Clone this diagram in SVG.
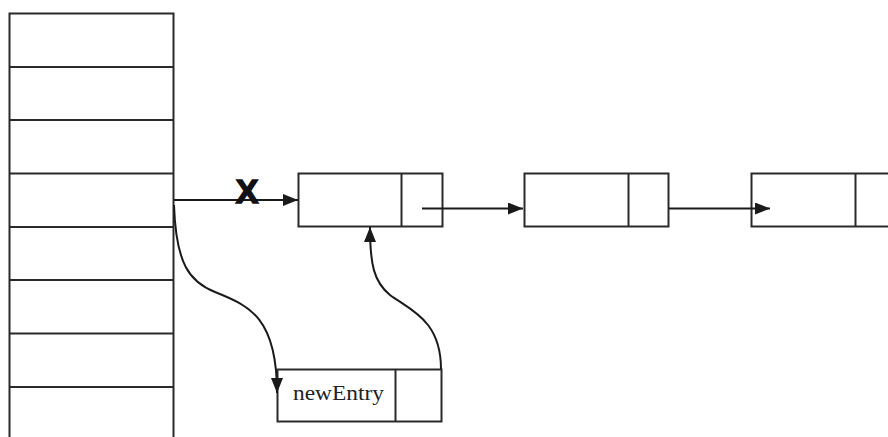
<svg xmlns="http://www.w3.org/2000/svg" width="888" height="437" viewBox="0 0 888 437">
<defs>
<marker id="ah" markerWidth="16" markerHeight="12" refX="15" refY="6" orient="auto" markerUnits="userSpaceOnUse">
<path d="M0,0 L15,6 L0,12 Z" fill="#1a1a1a"/>
</marker>
<style>
.box{fill:#fff;stroke:#2a2a2a;stroke-width:2}
.ln{fill:none;stroke:#2a2a2a;stroke-width:2}
.con{fill:none;stroke:#1a1a1a;stroke-width:2;marker-end:url(#ah)}
</style>
</defs>
<rect width="888" height="437" fill="#fff"/>
<g id="table">
<rect class="box" x="9.5" y="13.5" width="164" height="440"/>
<path class="ln" d="M9.5,67 H173.5 M9.5,120 H173.5 M9.5,173.5 H173.5 M9.5,227 H173.5 M9.5,280 H173.5 M9.5,333.5 H173.5 M9.5,387 H173.5"/>
</g>
<g id="node1">
<rect class="box" x="298.5" y="173.5" width="144" height="53"/>
<path class="ln" d="M401.5,173.5 V226.5"/>
</g>
<g id="node2">
<rect class="box" x="524.5" y="173.5" width="144" height="53"/>
<path class="ln" d="M628.5,173.5 V226.5"/>
</g>
<g id="node3">
<rect class="box" x="751.5" y="173.5" width="150" height="53"/>
<path class="ln" d="M855.5,173.5 V226.5"/>
</g>
<g id="newEntry">
<rect class="box" x="277.5" y="369.5" width="164" height="52"/>
<path class="ln" d="M395.5,369.5 V421.5"/>
<text x="293" y="400" font-family="Liberation Serif, serif" font-size="21" textLength="91" lengthAdjust="spacingAndGlyphs" fill="#222">newEntry</text>
</g>
<g id="connectors">
<path class="con" d="M174,200 H298"/>
<path class="con" d="M422,208.5 H523"/>
<path class="con" d="M669,208.5 H770"/>
<path class="con" d="M174,205 C176,265 190,282 215,292 C250,306 277,318 277,393"/>
<path class="con" d="M441,369 C441,320 410,310 390,295 C374,282 370,265 370,227"/>
</g>
<text x="247" y="203" font-family="Liberation Sans, Arial, sans-serif" font-size="34" font-weight="bold" text-anchor="middle" fill="#111" stroke="#111" stroke-width="1.5">X</text>
</svg>
